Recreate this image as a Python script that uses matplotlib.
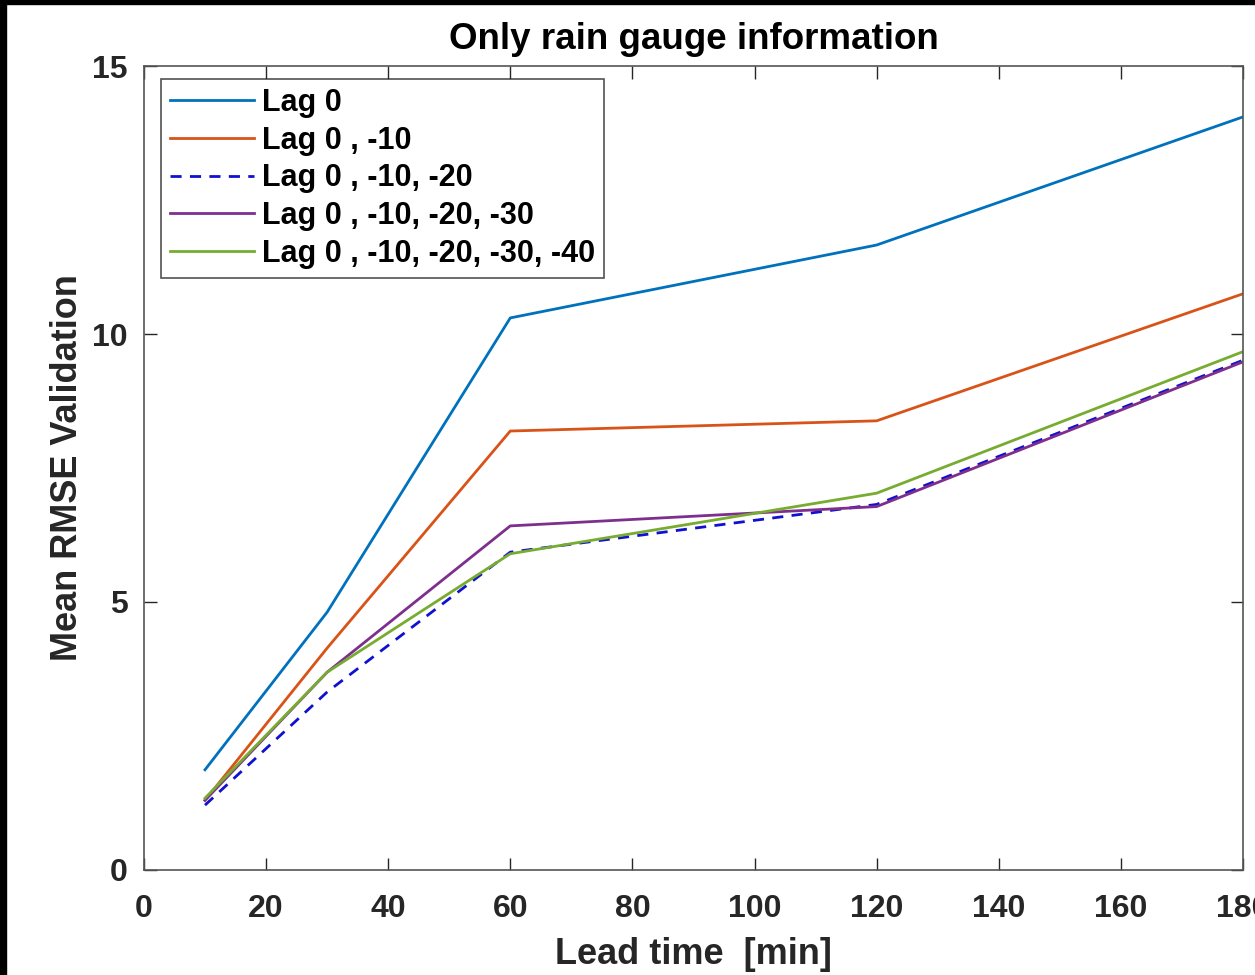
import matplotlib
matplotlib.use('Agg')
import matplotlib.pyplot as plt
from matplotlib.patches import Rectangle

plt.rcParams['font.family'] = ['Liberation Sans', 'DejaVu Sans']
plt.rcParams['font.weight'] = 'bold'

# lead time [min]
lead_time = [10, 30, 60, 120, 180]

# mean RMSE validation per lag set
lag0 = [1.87, 4.81, 10.30, 11.66, 14.05]
lag0_10 = [1.30, 4.14, 8.19, 8.38, 10.75]
lag0_10_20 = [1.21, 3.32, 5.93, 6.82, 9.51]
lag0_10_20_30 = [1.30, 3.69, 6.42, 6.78, 9.48]
lag0_10_20_30_40 = [1.34, 3.69, 5.90, 7.03, 9.67]

labels = ['Lag 0', 'Lag 0 , -10', 'Lag 0 , -10, -20',
          'Lag 0 , -10, -20, -30', 'Lag 0 , -10, -20, -30, -40']
x_ticks = [0, 20, 40, 60, 80, 100, 120, 140, 160, 180]
y_ticks = [0, 5, 10, 15]

fig = plt.figure(figsize=(12.55, 9.75), dpi=100)
ax = fig.add_axes([0.1147, 0.1077, 0.8757, 0.8246])

ax.plot(lead_time, lag0, color='#0072BD', lw=2, label=labels[0])
ax.plot(lead_time, lag0_10, color='#D95319', lw=2, label=labels[1])
ax.plot(lead_time, lag0_10_20, color='#1010D0', lw=2, ls=(0, (4, 3)), label=labels[2])
ax.plot(lead_time, lag0_10_20_30, color='#7E2F8E', lw=2, label=labels[3])
ax.plot(lead_time, lag0_10_20_30_40, color='#77AC30', lw=2, label=labels[4])

ax.set_xlim(0, 180)
ax.set_ylim(0, 15)
ax.set_xticks(x_ticks)
ax.set_yticks(y_ticks)
ax.tick_params(direction='in', length=9, width=1, top=True, right=True,
               labelsize=23, colors='#262626')
ax.tick_params(axis='x', pad=17)
ax.tick_params(axis='y', pad=12)
for s in ax.spines.values():
    s.set_color('#555555')
    s.set_linewidth(1.2)

ax.set_title('Only rain gauge information', fontsize=26.5, fontweight='bold', pad=12)
ax.set_xlabel('Lead time  [min]', fontsize=26, fontweight='bold', color='#262626', labelpad=10)
ax.set_ylabel('Mean RMSE Validation', fontsize=26, fontweight='bold', color='#262626', labelpad=5)

leg = ax.legend(loc='upper left', bbox_to_anchor=(0.0155, 0.984), fontsize=22,
                frameon=True, fancybox=False, edgecolor='#262626',
                handlelength=2.75, handletextpad=0.26, borderpad=0.3,
                labelspacing=0.25, borderaxespad=0)
leg.get_frame().set_linewidth(1.2)

# black frame strips of the screenshot
fig.patches.append(Rectangle((0, 1 - 4 / 975), 1, 4 / 975, transform=fig.transFigure,
                             color='black', zorder=10))
fig.patches.append(Rectangle((0, 0), 6 / 1255, 1, transform=fig.transFigure,
                             color='black', zorder=10))

plt.savefig('out.png', dpi=100)
